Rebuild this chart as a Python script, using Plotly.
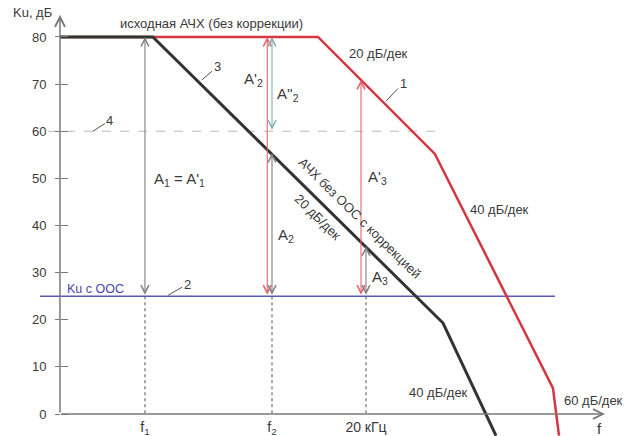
import numpy as np
import plotly.graph_objects as go

# ---------------- data (frequency in Hz, gain in dB) ----------------
gain_ticks = [0, 10, 20, 30, 40, 50, 60, 70, 80]
freq_ticks = [89, 2000, 20000]
freq_tick_labels = ["f<sub>1</sub>", "f<sub>2</sub>", "20 кГц"]

# 1 - original response (no correction)
freq_orig = [11.1, 6170, 108000, 1950000, 2260000]
gain_orig = [80, 80, 55.2, 5.5, -4.6]
# 3 - corrected response without feedback
freq_corr = [11.1, 108, 132000, 483000]
gain_corr = [80, 80, 19.3, -4.6]
# 2 - gain with feedback
freq_fb = [6.8, 2050000]
gain_fb = [25, 25]
# 4 - 60 dB reference
freq_ref = [8.3, 114000]
gain_ref = [60, 60]

# dimension arrows (frequency, lower gain, upper gain)
arr_freq = [89, 1780, 2000, 2000, 17700, 20000]
arr_low = [25, 25, 60, 25, 25, 25]
arr_high = [80, 80, 80, 55.4, 70.9, 35.6]
arr_kind = ["gray", "red", "teal", "gray", "red", "gray"]

axis_origin_freq = 11.1
axis_end_freq = 6.98e6
axis_top_gain = 84.7

lx = np.log10
AX = "#7a7a7a"
TXT = "#3a3a3a"
FONT = "Liberation Sans, Arial, sans-serif"

fig = go.Figure()

# dotted guides from feedback level down to axis
for f in freq_ticks:
    fig.add_trace(go.Scatter(x=[f, f], y=[gain_fb[0], 0], mode="lines",
                             line=dict(color="#8a8a8a", width=1.5, dash="dot"),
                             hoverinfo="skip"))

fig.add_trace(go.Scatter(x=freq_ref, y=gain_ref, mode="lines",
                         line=dict(color="#b8b8b8", width=1, dash="dash"), hoverinfo="skip"))
fig.add_trace(go.Scatter(x=freq_fb, y=gain_fb, mode="lines",
                         line=dict(color="#5a5ab4", width=1.5), hoverinfo="skip"))
fig.add_trace(go.Scatter(x=freq_orig, y=gain_orig, mode="lines",
                         line=dict(color="#d6363f", width=2.5), hoverinfo="skip"))
fig.add_trace(go.Scatter(x=freq_corr, y=gain_corr, mode="lines",
                         line=dict(color="#333333", width=3), hoverinfo="skip"))
fig.add_trace(go.Scatter(x=[], y=[], yaxis="y2", hoverinfo="skip"))

anns = []
# axis arrows
anns.append(dict(x=lx(axis_end_freq), y=0, ax=lx(axis_origin_freq), ay=0,
                 xref="x", yref="y", axref="x", ayref="y", text="", showarrow=True,
                 arrowhead=5, arrowsize=1.3, arrowwidth=1.5, arrowcolor=AX))
anns.append(dict(x=lx(axis_origin_freq), y=axis_top_gain, ax=lx(axis_origin_freq), ay=0,
                 xref="x", yref="y", axref="x", ayref="y", text="", showarrow=True,
                 arrowhead=5, arrowsize=1.3, arrowwidth=1.5, arrowcolor=AX))

colors = {"gray": "#808080", "red": "#e8626c", "teal": "#86aeb0"}
for f, lo, hi, k in zip(arr_freq, arr_low, arr_high, arr_kind):
    anns.append(dict(x=lx(f), y=hi, ax=lx(f), ay=lo, xref="x", yref="y", axref="x", ayref="y",
                     text="", showarrow=True, arrowside="end+start", arrowhead=5,
                     startarrowhead=5, arrowsize=1.4, startarrowsize=1.4, arrowwidth=1.1,
                     arrowcolor=colors[k]))

def label(text, f, g, size=13, color=TXT, angle=0):
    anns.append(dict(x=lx(f), y=g, xref="x", yref="y", text=text, showarrow=False,
                     textangle=angle, font=dict(family=FONT, size=size, color=color)))

label("Ku, дБ", 5.6, 85.1)
label("исходная АЧХ (без коррекции)", 449, 82.8)
label("20 дБ/дек", 26900, 76.6)
label("A'<sub>2</sub>", 1256, 70.9, size=15)
label("A''<sub>2</sub>", 2960, 67.7, size=15)
label("A<sub>1</sub> = A'<sub>1</sub>", 205, 49.7, size=15)
label("A<sub>2</sub>", 2820, 37.8, size=15)
label("A'<sub>3</sub>", 26200, 50.1, size=15)
label("A<sub>3</sub>", 28200, 28.9, size=15)
label("Ku с ООС", 26.2, 26.6, size=12.5, color="#4646b0")
label("АЧХ без ООС с коррекцией", 16850, 41.6, angle=44.5)
label("20 дБ/дек", 6170, 41.6, angle=44.5)
label("40 дБ/дек", 532000, 43.3)
label("40 дБ/дек", 117000, 4.5)
label("60 дБ/дек", 5.2e6, 2.8)
label("f", 6.17e6, -3.0, size=15)

def leader(text, f, g, dx, dy):
    anns.append(dict(x=lx(f), y=g, xref="x", yref="y", text=text, showarrow=True,
                     arrowhead=0, arrowwidth=1, arrowcolor="#555", ax=dx, ay=dy,
                     font=dict(family=FONT, size=13, color=TXT)))

leader("3", 360, 70.9, 15, -13)
leader("4", 24.9, 60, 17, -11)
leader("1", 32700, 66.4, 17, -18)
leader("2", 157, 25.2, 19, -11)

fig.update_layout(
    template="none",
    width=630, height=436,
    margin=dict(l=0, r=0, t=0, b=0),
    paper_bgcolor="white", plot_bgcolor="white",
    showlegend=False,
    font=dict(family=FONT, size=13, color=TXT),
    xaxis=dict(type="log", range=[0.4074, 7.1095], anchor="free", position=22 / 436,
               tickvals=freq_ticks, ticktext=freq_tick_labels, ticks="",
               showgrid=False, zeroline=False, showline=False, automargin=False,
               ticklabelstandoff=3, tickfont=dict(size=14, color=TXT)),
    yaxis=dict(range=[-4.668, 87.85], anchor="free", position=60 / 630,
               tickvals=gain_ticks, ticks="outside", ticklen=5, tickwidth=1.2,
               tickcolor=AX, showgrid=False, zeroline=False, showline=False,
               automargin=False, ticklabelstandoff=6, tickfont=dict(size=13, color=TXT)),
    yaxis2=dict(overlaying="y", matches="y", anchor="free", position=60 / 630,
                tickvals=gain_ticks, ticks="inside", ticklen=7, tickwidth=1.2,
                tickcolor=AX, showticklabels=False, showgrid=False, zeroline=False,
                showline=False, automargin=False),
    annotations=anns,
)

fig.write_html("out.html", config={"displayModeBar": False},
               post_script="document.body.style.margin='0px';document.body.style.overflow='hidden';")
